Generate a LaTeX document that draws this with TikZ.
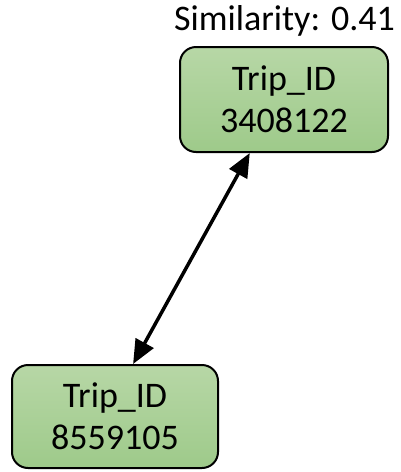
\documentclass[tikz,border=0pt]{standalone}
\usepackage{fontspec}
\setmainfont{Carlito}
\usetikzlibrary{arrows.meta,calc}
\definecolor{tripTop}{RGB}{183,215,166}
\definecolor{tripBot}{RGB}{158,202,138}
\tikzset{
  tripbox/.style={draw=black, line width=2pt, rounded corners=16pt,
    top color=tripTop, bottom color=tripBot, align=center,
    font=\fontsize{36}{42}\selectfont, inner sep=0pt},
  link/.style={line width=3.5pt, {Triangle[length=24pt,width=20pt]}-{Triangle[length=24pt,width=20pt]}}
}
\begin{document}
\begin{tikzpicture}[x=1pt,y=-1pt]
  \useasboundingbox (0,0) rectangle (401,472);
  \node[tripbox, minimum width=208pt, minimum height=105pt] (t) at (284,99.5) {Trip\_ID\\3408122};
  \node[tripbox, minimum width=206pt, minimum height=103pt] (b) at (115,416.5) {Trip\_ID\\8559105};
  \node[anchor=base, inner sep=0pt, font=\fontsize{36}{42}\selectfont] (sim) at (284.5,30) {Similarity: 0.41};
  \draw[link] ($(b.north west)!0.587!(b.north east)$) -- ($(t.south west)!0.337!(t.south east)$);
\end{tikzpicture}
\end{document}
